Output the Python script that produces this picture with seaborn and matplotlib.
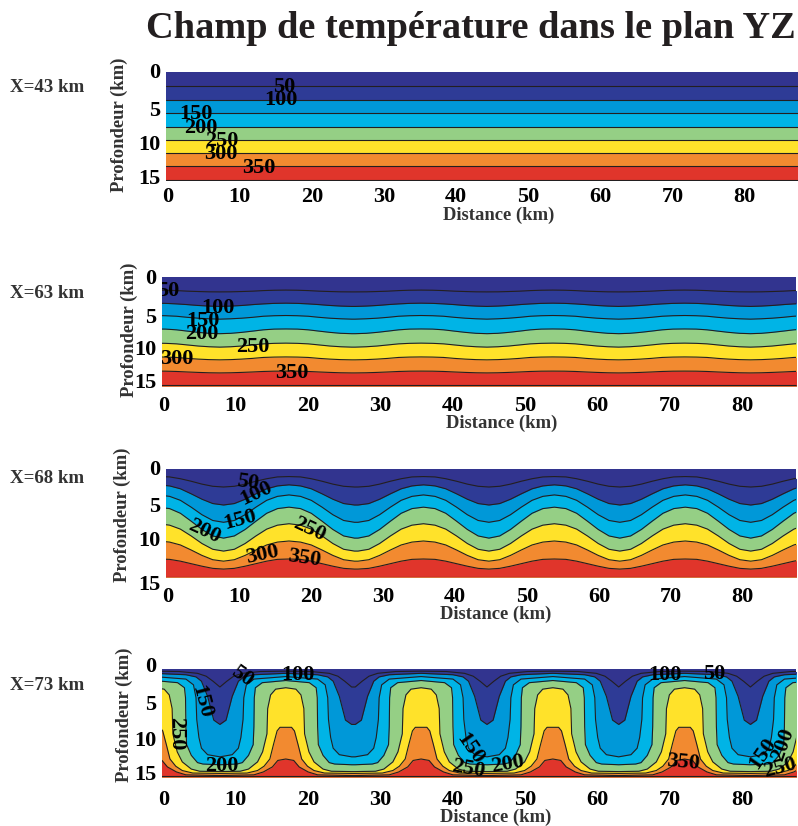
import numpy as np
import pandas as pd
import matplotlib
matplotlib.use('Agg')
import matplotlib.pyplot as plt
from matplotlib.transforms import Affine2D
import seaborn as sns

LEVELS = [50, 100, 150, 200, 250, 300, 350, 400]
BAND_COLORS = ['#2e3b96', '#0098d8', '#00b4e6', '#95cf85', '#ffe22a', '#f28a30', '#e0352b', '#7a1f1f']
TOP_COLOR = '#32348f'

# troughs of the convection cells (km), one cell is 18.2 km wide
TROUGHS = [-10.2, 8.0, 26.7, 44.9, 63.1, 81.3]
CELL = 18.2

# isotherm depth (km), flat section
DEPTH_43 = [1.9, 3.8, 5.65, 7.5, 9.3, 11.15, 13.0, 14.9]

# half a cell, trough to crest
HALF_X = [0, 1.5, 3, 4.5, 6, 7.5, 9.1]
DEPTH_63 = [
    [2.05, 2.04, 2.0, 1.95, 1.87, 1.82, 1.8],
    [4.05, 4.0, 3.92, 3.8, 3.7, 3.63, 3.6],
    [5.8, 5.75, 5.67, 5.55, 5.4, 5.33, 5.3],
    [7.8, 7.75, 7.62, 7.45, 7.27, 7.17, 7.15],
    [9.65, 9.6, 9.5, 9.35, 9.2, 9.13, 9.1],
    [11.4, 11.37, 11.3, 11.2, 11.07, 11.02, 11.0],
    [13.2, 13.18, 13.13, 13.07, 13.0, 12.96, 12.95],
    [14.85, 14.85, 14.85, 14.85, 14.85, 14.85, 14.85],
]
DEPTH_68 = [
    [2.5, 2.4, 2.1, 1.7, 1.35, 1.1, 1.05],
    [5.0, 4.8, 4.2, 3.45, 2.75, 2.35, 2.2],
    [7.4, 7.15, 6.35, 5.3, 4.35, 3.8, 3.6],
    [9.6, 9.3, 8.4, 7.25, 6.15, 5.5, 5.3],
    [11.4, 11.15, 10.35, 9.3, 8.35, 7.8, 7.6],
    [12.8, 12.6, 12.0, 11.25, 10.55, 10.15, 10.0],
    [13.9, 13.8, 13.5, 13.15, 12.8, 12.55, 12.5],
    [14.95, 14.95, 14.95, 14.95, 14.95, 14.95, 14.95],
]
# the X=73 isotherms are steep, so each one has its own x samples
X_73 = [
    [0, 0.95, 1.9, 3.1, 5.6, 9.1],
    [0, 0.85, 1.7, 2.55, 3.3, 4.7, 9.1],
    [0, 1.7, 2.55, 2.9, 3.2, 3.3, 3.65, 4.7, 9.1],
    [0, 2.35, 3.1, 3.95, 4.6, 4.7, 4.75, 4.9, 5.85, 9.1],
    [0, 2.8, 3.95, 5.2, 5.9, 6.5, 6.6, 7.0, 7.7, 9.1],
    [0, 3.75, 5.2, 6.1, 6.9, 7.4, 7.9, 8.3, 9.1],
    [0, 4.7, 6.0, 7.25, 8.0, 9.1],
    [0, 9.1],
]
DEPTH_73 = [
    [2.5, 1.7, 1.0, 0.6, 0.35, 0.3],
    [7.7, 7.1, 3.8, 1.7, 1.1, 0.8, 0.6],
    [12.2, 11.9, 11.0, 9.5, 7.0, 4.0, 2.2, 1.4, 1.05],
    [13.3, 13.2, 13.0, 12.0, 10.5, 8.0, 4.0, 2.6, 1.9, 1.6],
    [14.25, 14.2, 13.9, 12.9, 11.5, 9.0, 5.5, 3.6, 2.8, 2.6],
    [14.5, 14.45, 14.1, 13.5, 12.5, 10.5, 8.6, 8.1, 8.1],
    [14.8, 14.7, 14.3, 13.6, 12.7, 12.5],
    [14.9, 14.9],
]

ROW_NAMES = ['X=43 km', 'X=63 km', 'X=68 km', 'X=73 km']
XTICKS = [0, 10, 20, 30, 40, 50, 60, 70, 80]
YTICKS = [0, 5, 10, 15]

# contour labels: text, x km, depth km, rotation
LABELS_43 = [('50', 16.4, 2.1, 0), ('100', 15.9, 3.85, 0), ('150', 4.1, 5.75, 0), ('200', 4.8, 7.65, 0),
             ('250', 7.7, 9.45, 0), ('300', 7.6, 11.35, 0), ('350', 12.8, 13.25, 0)]
LABELS_63 = [('50', 0.8, 1.95, 0), ('100', 7.7, 4.25, 0), ('150', 5.7, 6.05, 0), ('200', 5.5, 7.85, 0),
             ('250', 12.6, 9.65, 0), ('300', 2.0, 11.25, 0), ('350', 18.0, 13.25, 0)]
LABELS_68 = [('50', 11.4, 1.95, -8), ('100', 12.6, 3.35, 25), ('150', 10.3, 7.05, 15), ('200', 5.4, 8.75, -25),
             ('250', 20.0, 8.45, -25), ('300', 13.4, 11.85, 12), ('350', 19.2, 12.45, -8)]
LABELS_73 = [('50', 11.0, 1.0, -35), ('100', 18.8, 0.85, 0), ('150', 5.4, 4.55, -75), ('250', 2.0, 8.95, -90),
             ('200', 8.3, 13.45, 0), ('150', 42.5, 11.15, -55), ('250', 42.4, 13.95, -10), ('200', 47.7, 13.15, 10),
             ('350', 72.0, 13.05, -5), ('100', 69.5, 0.85, 0), ('50', 76.3, 0.75, 0), ('150', 83.0, 11.75, 55),
             ('200', 85.8, 10.45, 70), ('250', 85.4, 13.75, 15)]

W, H = 798, 826


def unfold(half_x, half_d):
    # mirror the half cell at the crest, then repeat at each trough
    half_x = np.array(half_x)
    half_d = np.array(half_d)
    cell_x = np.r_[half_x, CELL - half_x[-2::-1]]
    cell_d = np.r_[half_d, half_d[-2::-1]]
    xs = np.concatenate([cell_x + t for t in TROUGHS])
    ds = np.tile(cell_d, len(TROUGHS))
    return xs, ds


def px_axes(fig, left, top, right, bottom):
    return fig.add_axes([left / W, 1 - bottom / H, (right - left) / W, (bottom - top) / H])


sns.set_theme(style='white')
plt.rcParams['font.family'] = ['Liberation Serif', 'DejaVu Serif']
plt.rcParams['font.weight'] = 'bold'

fig = plt.figure(figsize=(W / 100, H / 100), dpi=100)
fig.text(471 / W, 1 - 29 / H, 'Champ de température dans le plan YZ', ha='center', va='center',
         fontsize=27.6, fontweight='bold', color='#231f20')

panels = [
    dict(box=(166, 72, 798, 181), xs=[[0, 90]] * 8, ds=[[d, d] for d in DEPTH_43], labels=LABELS_43,
         row_y=87, ylab=(119, 125), xlab=(499, 215), pad=4.5, shift=[-1, 0, -2, -5], clip=False),
    dict(box=(162, 277, 796, 386), xs=[HALF_X] * 8, ds=DEPTH_63, labels=LABELS_63,
         row_y=293, ylab=(129, 330), xlab=(502, 423), pad=7.5, shift=[-1, 2, -2, -5], clip=True),
    dict(box=(166, 469, 796, 577), xs=[HALF_X] * 8, ds=DEPTH_68, labels=LABELS_68,
         row_y=477, ylab=(122, 515), xlab=(496, 614), pad=7, shift=[-1, 0, -2, 5], clip=False),
    dict(box=(162, 669, 796, 777), xs=X_73, ds=DEPTH_73, labels=LABELS_73,
         row_y=684, ylab=(124, 715), xlab=(496, 817), pad=9.2, shift=[-4, -2, -3, -5], clip=False),
]

for p, name in zip(panels, ROW_NAMES):
    ax = px_axes(fig, *p['box'])
    ax.set_facecolor(TOP_COLOR)
    curves = []
    for level, color, hx, hd in zip(LEVELS, BAND_COLORS, p['xs'], p['ds']):
        if name == 'X=43 km':
            x, d = np.array(hx), np.array(hd)
        else:
            x, d = unfold(hx, hd)
        # paint from the isotherm down, the next level covers the rest
        ax.fill_between(x, d, 15, color=color, lw=0)
        curves.append(pd.DataFrame({'x': x, 'depth': d, 'level': level}))
    lines = pd.concat(curves)
    sns.lineplot(data=lines, x='x', y='depth', units='level', estimator=None, sort=False,
                 color='#231f20', lw=0.8, ax=ax)

    ax.set_xlim(0, 87.6)
    ax.set_ylim(15, 0)
    ax.set_xticks(XTICKS)
    ax.set_yticks(YTICKS)
    ax.set_xticklabels([str(v) for v in XTICKS])
    ax.set_yticklabels([str(v) for v in YTICKS])
    ax.tick_params(axis='x', length=0, pad=p['pad'], labelsize=16, labelcolor='black')
    ax.tick_params(axis='y', length=0, pad=4, labelsize=16, labelcolor='black')
    sns.despine(ax=ax, left=True, bottom=True)

    for label in ax.get_xticklabels():
        label.set_transform(label.get_transform() + Affine2D().translate(1.5, 0))
    for label, dy in zip(ax.get_yticklabels(), p['shift']):
        label.set_transform(label.get_transform() + Affine2D().translate(0, -dy))

    ax.set_xlabel('Distance (km)', fontsize=13.4, fontweight='bold', color='#333333')
    ax.set_ylabel('Profondeur (km)', fontsize=13.4, fontweight='bold', color='#333333')
    ax.xaxis.set_label_coords(p['xlab'][0] / W, 1 - p['xlab'][1] / H, transform=fig.transFigure)
    ax.yaxis.set_label_coords(p['ylab'][0] / W, 1 - p['ylab'][1] / H, transform=fig.transFigure)
    ax.xaxis.label.set_va('center')
    ax.yaxis.label.set_va('center')

    for text, x, y, rot in p['labels']:
        ax.text(x, y, text, ha='center', va='center', rotation=rot, fontsize=16, fontweight='bold',
                color='black', clip_on=p['clip'])

    fig.text(10 / W, 1 - (p['row_y'] + 1) / H, name, ha='left', va='center', fontsize=13.6,
             fontweight='bold', color='#333333')

fig.savefig('out.png', dpi=100)
